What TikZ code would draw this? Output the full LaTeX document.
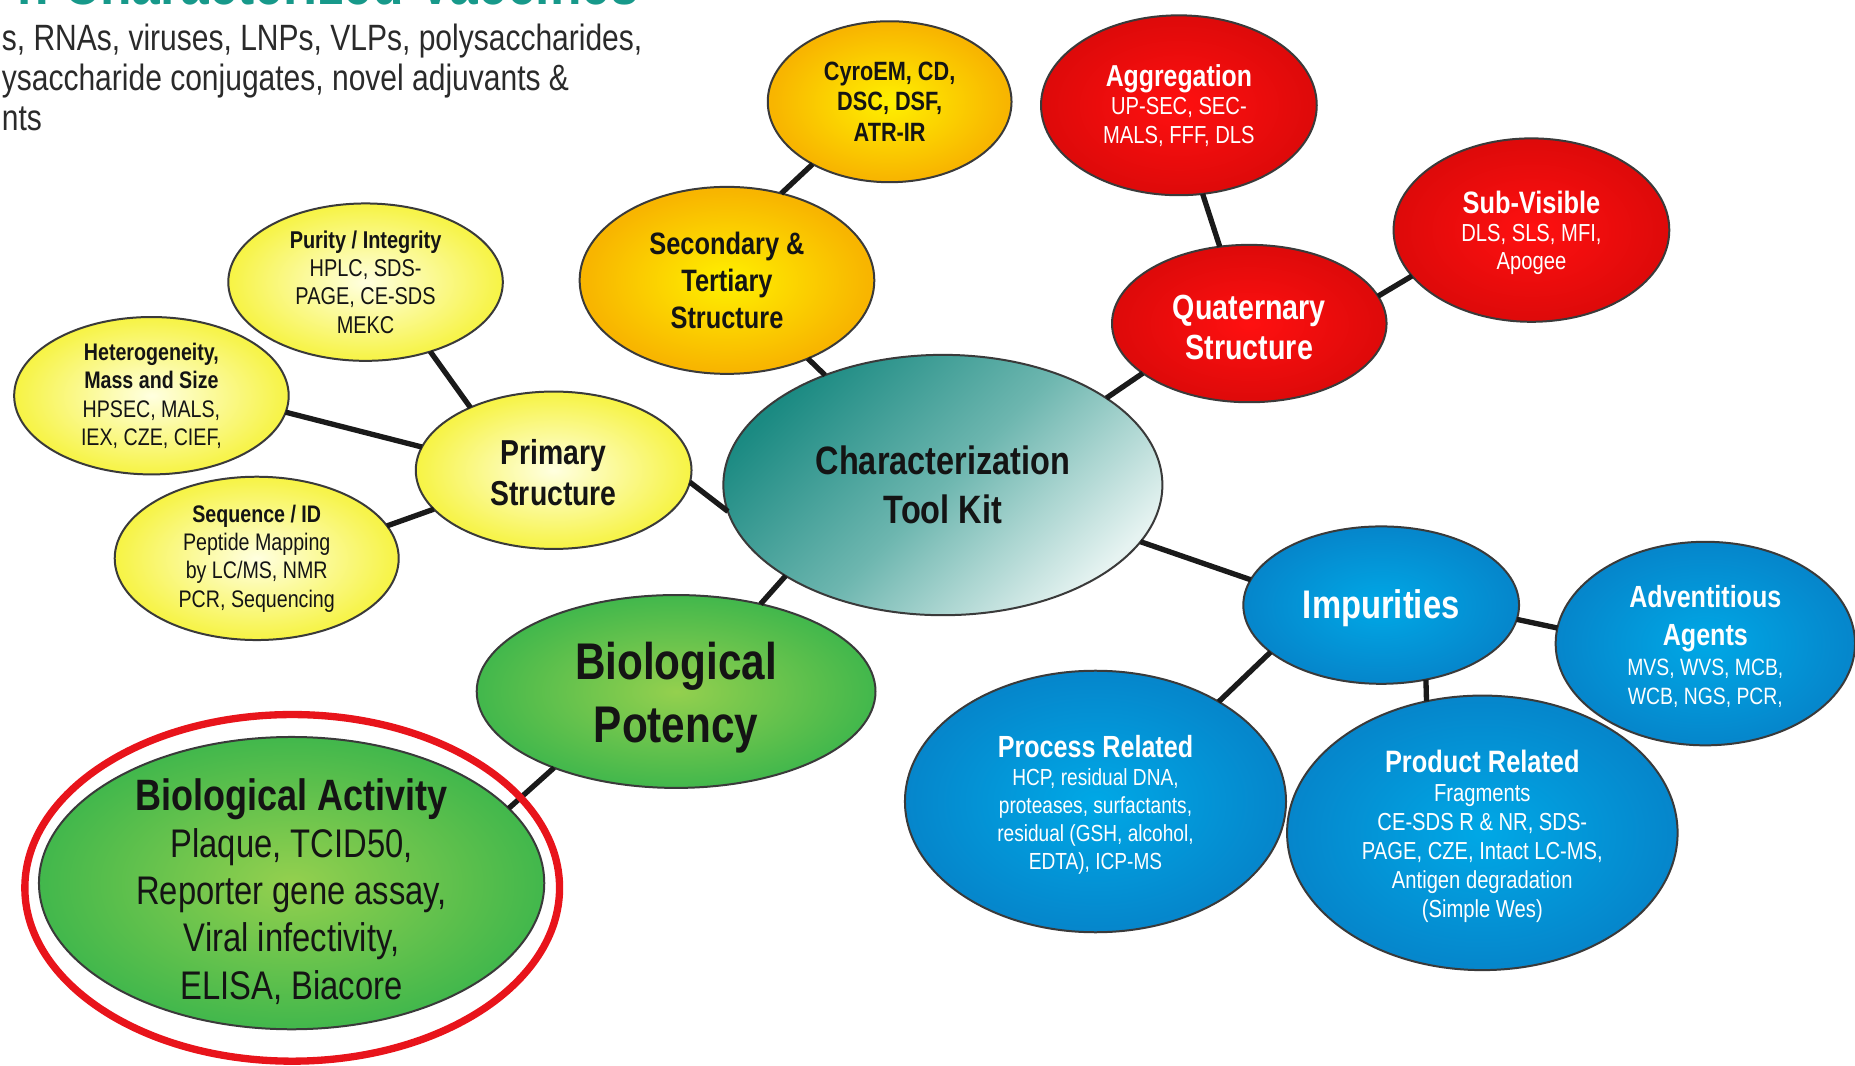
\documentclass[tikz,border=0pt]{standalone}
\usepackage{fontspec}
\setmainfont{Liberation Sans}[FakeStretch=0.82]
\usetikzlibrary{shapes.geometric}

\definecolor{txtdark}{HTML}{141414}
\definecolor{subgray}{HTML}{2A2A2A}
\definecolor{ttlteal}{HTML}{17998A}
\definecolor{edgegray}{HTML}{3A3A3A}
\definecolor{linkblack}{HTML}{1A1A1A}
\definecolor{ringred}{HTML}{E8141B}
\definecolor{tealdark}{HTML}{1B8A82}
\definecolor{tealmid}{HTML}{6DB6AF}
\definecolor{teallight}{HTML}{E6F3F1}
\definecolor{ylwin}{HTML}{FFFFE0}
\definecolor{ylwout}{HTML}{F4F018}
\definecolor{ornin}{HTML}{FFF000}
\definecolor{ornout}{HTML}{F8B500}
\definecolor{redin}{HTML}{FF1010}
\definecolor{redout}{HTML}{BE0404}
\definecolor{bluin}{HTML}{00A8E6}
\definecolor{bluout}{HTML}{0B66B2}
\definecolor{grnin}{HTML}{94D04E}
\definecolor{grnout}{HTML}{03A54A}

\pgfdeclareradialshading{ylwball}{\pgfpoint{0bp}{0bp}}{color(0bp)=(ylwin); color(32bp)=(ylwout); color(72bp)=(ylwout)}
\pgfdeclareradialshading{ornball}{\pgfpoint{0bp}{0bp}}{color(0bp)=(ornin); color(24bp)=(ornout); color(72bp)=(ornout)}
\pgfdeclareradialshading{redball}{\pgfpoint{0bp}{0bp}}{color(0bp)=(redin); color(48bp)=(redout); color(72bp)=(redout)}
\pgfdeclareradialshading{bluball}{\pgfpoint{0bp}{0bp}}{color(0bp)=(bluin); color(48bp)=(bluout); color(72bp)=(bluout)}
\pgfdeclareradialshading{grnball}{\pgfpoint{0bp}{0bp}}{color(0bp)=(grnin); color(44bp)=(grnout); color(72bp)=(grnout)}

\begin{document}
\begin{tikzpicture}[x=0.0125cm,y=-0.0125cm,
  bubble/.style={ellipse,draw=edgegray,line width=0.6pt,inner sep=-5mm,outer sep=0pt,align=center,text=txtdark},
  ylw/.style={bubble,shade,shading=ylwball},
  orn/.style={bubble,shade,shading=ornball},
  redb/.style={bubble,shade,shading=redball,text=white},
  blu/.style={bubble,shade,shading=bluball,text=white},
  grn/.style={bubble,shade,shading=grnball},
  hub/.style={bubble,top color=tealdark,bottom color=teallight,middle color=tealmid,shading angle=45},
  link/.style={draw=linkblack,line width=1.6pt}]
\path[fill=white,use as bounding box] (0,0) rectangle (1568,901);

% heading lines, cut by the page edge
\node[anchor=base west,inner sep=0pt,text=ttlteal,font=\fontsize{18.9}{20}\selectfont\bfseries] (ttl) at (14,3.8) {n Characterized Vaccines};
\node[anchor=north west,align=left,inner sep=0pt,text=subgray,font=\fontsize{11}{12.1}\selectfont] (intro) at (1,19.5)
  {s, RNAs, viruses, LNPs, VLPs, polysaccharides,\\ysaccharide conjugates, novel adjuvants \&\\nts};

% hub
\node[hub,minimum width=4.6375cm,minimum height=2.75cm,font=\fontsize{11.9}{14.6}\selectfont\bfseries] (ctk) at (797,410) {Characterization\\Tool Kit};

% primary structure
\node[ylw,minimum width=2.9125cm,minimum height=1.6625cm,font=\fontsize{10.4}{12.45}\selectfont\bfseries] (prim) at (468,397.5) {\rule{0pt}{9pt}Primary\\Structure};
\node[ylw,minimum width=2.9cm,minimum height=1.6625cm,font=\fontsize{7.3}{8.5}\selectfont] (pur) at (309,238.5)
  {{\bfseries Purity / Integrity}\\HPLC, SDS-\\PAGE, CE-SDS\\MEKC};
\node[ylw,minimum width=2.9cm,minimum height=1.6625cm,font=\fontsize{7.2}{8.5}\selectfont] (het) at (128,334.5)
  {{\bfseries Heterogeneity,}\\{\bfseries Mass and Size}\\HPSEC, MALS,\\IEX, CZE, CIEF,};
\node[ylw,minimum width=3cm,minimum height=1.725cm,font=\fontsize{7.2}{8.5}\selectfont] (seq) at (217,472)
  {{\bfseries Sequence / ID}\\Peptide Mapping\\by LC/MS, NMR\\PCR, Sequencing};

% higher order
\node[orn,minimum width=3.1125cm,minimum height=1.975cm,font=\fontsize{9.3}{11}\selectfont\bfseries] (sec) at (614.5,237) {Secondary \&\\Tertiary\\Structure};
\node[orn,minimum width=2.575cm,minimum height=1.7cm,font=\fontsize{7.95}{9.25}\selectfont\bfseries] (cryo) at (752,86) {CyroEM, CD,\\DSC, DSF,\\ATR-IR};

% quaternary
\node[redb,minimum width=2.9cm,minimum height=1.6625cm,font=\fontsize{10.5}{12.1}\selectfont\bfseries] (quat) at (1056,273.5) {\rule{0pt}{9.6pt}Quaternary\\Structure};
\node[redb,minimum width=2.9125cm,minimum height=1.9cm,font=\fontsize{7.4}{8.6}\selectfont] (agg) at (996.5,89)
  {{\fontsize{9.1}{8.6}\selectfont\bfseries Aggregation}\\UP-SEC, SEC-\\MALS, FFF, DLS};
\node[redb,minimum width=2.9125cm,minimum height=1.9375cm,font=\fontsize{7.4}{8.5}\selectfont] (subv) at (1294.5,194.5)
  {{\fontsize{9.3}{8.5}\selectfont\bfseries \rule{0pt}{8.5pt}Sub-Visible}\\DLS, SLS, MFI,\\Apogee};

% impurities
\node[blu,minimum width=2.9125cm,minimum height=1.6625cm,font=\fontsize{12}{14}\selectfont\bfseries] (imp) at (1167.5,511.5) {\rule{0pt}{10.5pt}Impurities};
\node[blu,minimum width=3.1625cm,minimum height=2.15cm,font=\fontsize{7.1}{8.9}\selectfont] (adv) at (1441.5,544)
  {{\fontsize{9.2}{8.9}\selectfont\bfseries \rule{0pt}{8.5pt}Adventitious}\\[2.5pt]{\fontsize{9.2}{8.9}\selectfont\bfseries Agents}\\MVS, WVS, MCB,\\WCB, NGS, PCR,};
\node[blu,minimum width=4.025cm,minimum height=2.7625cm,font=\fontsize{7}{8.4}\selectfont] (proc) at (926,677.5)
  {{\fontsize{9.2}{8.4}\selectfont\bfseries \rule{0pt}{8.5pt}Process Related}\\HCP, residual DNA,\\proteases, surfactants,\\residual (GSH, alcohol,\\EDTA), ICP-MS};
\node[blu,minimum width=4.125cm,minimum height=2.9cm,font=\fontsize{7.4}{8.7}\selectfont] (prod) at (1253,704)
  {{\fontsize{9.3}{8.7}\selectfont\bfseries \rule{0pt}{9pt}Product Related}\\Fragments\\CE-SDS R \& NR, SDS-\\PAGE, CZE, Intact LC-MS,\\Antigen degradation\\(Simple Wes)};

% potency
\node[grn,minimum width=4.2125cm,minimum height=2.0375cm,font=\fontsize{15.5}{18.9}\selectfont\bfseries] (pot) at (571.5,584.5) {\rule{0pt}{14.8pt}Biological\\Potency};
\node[grn,minimum width=5.3375cm,minimum height=3.0875cm,font=\fontsize{12}{14.2}\selectfont] (act) at (246.5,746.5)
  {{\fontsize{13.2}{14.2}\selectfont\bfseries \rule{0pt}{14.5pt}Biological Activity}\\Plaque, TCID50,\\Reporter gene assay,\\Viral infectivity,\\ELISA, Biacore};

% connectors
\draw[link] (pur.-47) -- (prim.143);
\draw[link] (het.-7) -- (prim.170);
\draw[link] (seq.14) -- (prim.198);
\draw[link] (prim.-5.5) -- (ctk.187);
\draw[link] (sec.58) -- (cryo.219.5);
\draw[link] (sec.-44.6) -- (ctk.137.4);
\draw[link] (ctk.28.2) -- (quat.205);
\draw[link] (agg.-75.4) -- (quat.111.8);
\draw[link] (quat.12.9) -- (subv.201.3);
\draw[link] (ctk.-16) -- (imp.169.3);
\draw[link] (imp.-6.9) -- (adv.174);
\draw[link] (imp.203.5) -- (proc.39.3);
\draw[link] (imp.-59.7) -- (prod.113.4);
\draw[link] (ctk.210.4) -- (pot.46.6);
\draw[link] (pot.212.8) -- (act.19.1);

% highlight ring
\draw[ringred,line width=2.2pt] (247,750.5) ellipse [x radius=226,y radius=146.5];
\end{tikzpicture}
\end{document}
